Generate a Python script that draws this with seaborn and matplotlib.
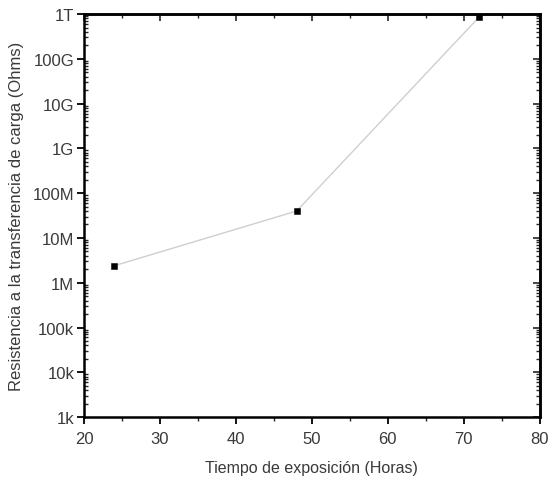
import matplotlib
matplotlib.use('Agg')
import matplotlib.pyplot as plt
import matplotlib.ticker as mticker
import numpy as np
import pandas as pd
import seaborn as sns

# data
horas = [24, 48, 72]
resistencia = [2.4e6, 4.0e7, 8.5e11]

y_ticks = [1e3, 1e4, 1e5, 1e6, 1e7, 1e8, 1e9, 1e10, 1e11, 1e12]
y_tick_labels = ['1k', '10k', '100k', '1M', '10M', '100M', '1G', '10G', '100G', '1T']
x_ticks = [20, 30, 40, 50, 60, 70, 80]

sns.set_style('ticks')
plt.rcParams['font.family'] = ['Liberation Sans', 'DejaVu Sans']

df = pd.DataFrame({'horas': horas, 'r': resistencia})

fig = plt.figure(figsize=(5.53, 4.85), dpi=100)
ax = fig.add_axes([0.152, 0.138, 0.824, 0.831])
ax.set_yscale('log')
sns.lineplot(data=df, x='horas', y='r', ax=ax, color='#cfcfcf', linewidth=1.0)
sns.scatterplot(data=df, x='horas', y='r', ax=ax, marker='s', color='black', s=22,
                edgecolor='black', zorder=5)

ax.set_xlim(20, 80)
ax.set_ylim(1e3, 1e12)
ax.set_xticks(x_ticks)
ax.xaxis.set_minor_locator(mticker.MultipleLocator(5))
ax.set_yticks(y_ticks)
ax.set_yticklabels(y_tick_labels)
minor_y = mticker.LogLocator(base=10, subs=np.arange(2, 10), numticks=20)
ax.yaxis.set_minor_locator(minor_y)
ax.yaxis.set_minor_formatter(mticker.NullFormatter())

ax.tick_params(which='major', direction='out', length=5, width=1.3, labelsize=12,
               labelcolor='#3a3a3a', color='black')
ax.tick_params(axis='x', which='major', pad=5)
ax.tick_params(axis='y', which='major', pad=2)
ax.tick_params(axis='x', which='minor', direction='out', length=3, width=1.0)
ax.tick_params(axis='y', which='minor', direction='in', length=3, width=1.0)

# top and right: inward ticks, no labels
top = ax.secondary_xaxis('top')
top.set_xticks(x_ticks)
top.xaxis.set_minor_locator(mticker.MultipleLocator(5))
top.tick_params(which='major', direction='in', length=5, width=1.2, labeltop=False)
top.tick_params(which='minor', direction='in', length=3, width=1.0)
right = ax.secondary_yaxis('right')
right.set_yticks(y_ticks)
right.yaxis.set_minor_locator(mticker.LogLocator(base=10, subs=np.arange(2, 10), numticks=20))
right.tick_params(which='major', direction='in', length=5, width=1.2, labelright=False)
right.tick_params(which='minor', direction='in', length=3, width=1.0)
right.yaxis.set_minor_formatter(mticker.NullFormatter())
for a in (ax, top, right):
    for s in a.spines.values():
        s.set_linewidth(1.8)
        s.set_color('black')

ax.set_xlabel('Tiempo de exposición (Horas)', fontsize=11.5, color='#3a3a3a', labelpad=10)
ax.set_ylabel('Resistencia a la transferencia de carga (Ohms)', fontsize=12, color='#3a3a3a',
              labelpad=6)

fig.savefig('out.png', dpi=100)
